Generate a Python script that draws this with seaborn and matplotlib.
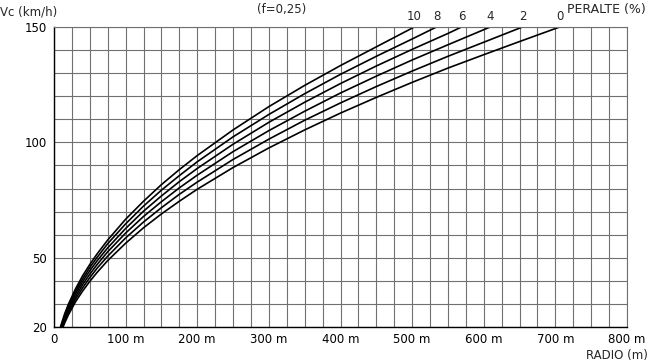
import matplotlib
matplotlib.use("Agg")
import matplotlib.pyplot as plt
import seaborn as sns
import pandas as pd
import numpy as np

# Radius (m) and speed (km/h) for each superelevation curve
peralte_labels = ["0", "2", "4", "6", "8", "10"]
radios = {
    "0":  [12.6, 15, 20, 30, 40, 50, 60, 75, 100, 125, 150, 175, 200, 250, 300, 350, 400, 450, 500, 550, 600, 650, 706],
    "2":  [11.7, 15, 20, 30, 40, 50, 60, 75, 100, 125, 150, 175, 200, 250, 300, 350, 400, 450, 500, 550, 600, 654],
    "4":  [10.9, 15, 20, 30, 40, 50, 60, 75, 100, 125, 150, 175, 200, 250, 300, 350, 400, 450, 500, 550, 609],
    "6":  [10.2, 15, 20, 30, 40, 50, 60, 75, 100, 125, 150, 175, 200, 250, 300, 350, 400, 450, 500, 550, 569],
    "8":  [9.5, 15, 20, 30, 40, 50, 60, 75, 100, 125, 150, 175, 200, 250, 300, 350, 400, 450, 500, 534],
    "10": [9.0, 15, 20, 30, 40, 50, 60, 75, 100, 125, 150, 175, 200, 250, 300, 350, 400, 450, 503],
}
velocidades = {
    "0":  [20, 21.8, 25.2, 30.9, 35.6, 39.8, 43.6, 48.8, 56.3, 63.0, 69.0, 74.5, 79.7, 89.1, 97.6, 105.4, 112.7, 119.5, 126.0, 132.2, 138.0, 143.7, 150],
    "2":  [20, 22.7, 26.2, 32.1, 37.0, 41.4, 45.4, 50.7, 58.6, 65.5, 71.7, 77.5, 82.8, 92.6, 101.4, 109.6, 117.1, 124.2, 130.9, 137.3, 143.4, 150],
    "4":  [20, 23.5, 27.1, 33.2, 38.4, 42.9, 47.0, 52.6, 60.7, 67.9, 74.3, 80.3, 85.8, 96.0, 105.1, 113.5, 121.4, 128.7, 135.7, 142.3, 150],
    "6":  [20, 24.3, 28.1, 34.4, 39.7, 44.4, 48.6, 54.3, 62.7, 70.2, 76.8, 83.0, 88.7, 99.2, 108.7, 117.4, 125.5, 133.1, 140.3, 147.2, 150],
    "8":  [20, 25.1, 29.0, 35.5, 40.9, 45.8, 50.1, 56.1, 64.7, 72.4, 79.3, 85.6, 91.6, 102.4, 112.1, 121.1, 129.5, 137.3, 144.8, 150],
    "10": [20, 25.8, 29.8, 36.5, 42.2, 47.1, 51.6, 57.7, 66.7, 74.5, 81.7, 88.2, 94.3, 105.4, 115.5, 124.7, 133.3, 141.4, 150],
}
x_ticks = [0, 100, 200, 300, 400, 500, 600, 700, 800]
x_tick_labels = ["0", "100 m", "200 m", "300 m", "400 m", "500 m", "600 m", "700 m", "800 m"]
y_ticks = [20, 50, 100, 150]

rows = []
for p in peralte_labels:
    for r, v in zip(radios[p], velocidades[p]):
        rows.append({"radio": r, "vc": v, "peralte": p})
df = pd.DataFrame(rows)

sns.set_theme(style="white")
plt.rcParams["font.family"] = ["DejaVu Sans"]

fig = plt.figure(figsize=(6.5, 3.64), dpi=100)
ax = fig.add_axes([54 / 650, 1 - 327 / 364, (627 - 54) / 650, (327 - 27) / 364])

sns.lineplot(data=df, x="radio", y="vc", hue="peralte", hue_order=peralte_labels,
             palette={p: "black" for p in peralte_labels}, linewidth=1.2,
             legend=False, ax=ax, estimator=None, sort=True)

ax.set_xlim(0, 800)
ax.set_ylim(20, 150)
ax.set_xticks(x_ticks)
ax.set_xticklabels(x_tick_labels)
ax.set_yticks(y_ticks)
ax.set_xticks(np.arange(0, 801, 25), minor=True)
ax.set_yticks(np.arange(20, 151, 10), minor=True)
ax.grid(which="both", color="#707070", linewidth=0.8)
ax.set_axisbelow(True)
ax.tick_params(axis="both", which="major", labelsize=8.5, colors="black", length=3,
               width=0.8, direction="out", pad=2)
ax.tick_params(axis="both", which="minor", length=0)
ax.tick_params(axis="x", which="major", length=0, pad=4)
for s in ["left", "bottom"]:
    ax.spines[s].set_color("black")
    ax.spines[s].set_linewidth(1.0)
for s in ["top", "right"]:
    ax.spines[s].set_color("#707070")
    ax.spines[s].set_linewidth(0.8)
ax.set_xlabel("")
ax.set_ylabel("")

# Curve end labels
for p in peralte_labels:
    ax.annotate(p, (radios[p][-1], velocidades[p][-1]), xytext=(0, 3),
                textcoords="offset points", ha="center", va="bottom", fontsize=8.5)

fig.text(0 / 650, 1 - 12 / 364, "Vc (km/h)", fontsize=8.5, ha="left", va="center")
fig.text(282 / 650, 1 - 9 / 364, "(f=0,25)", fontsize=8.5, ha="center", va="center")
fig.text(646 / 650, 1 - 9 / 364, "PERALTE (%)", fontsize=9, ha="right", va="center")
fig.text(648 / 650, 1 - 355 / 364, "RADIO (m)", fontsize=8.5, ha="right", va="center")

fig.savefig("out.png", dpi=100, facecolor="white")
